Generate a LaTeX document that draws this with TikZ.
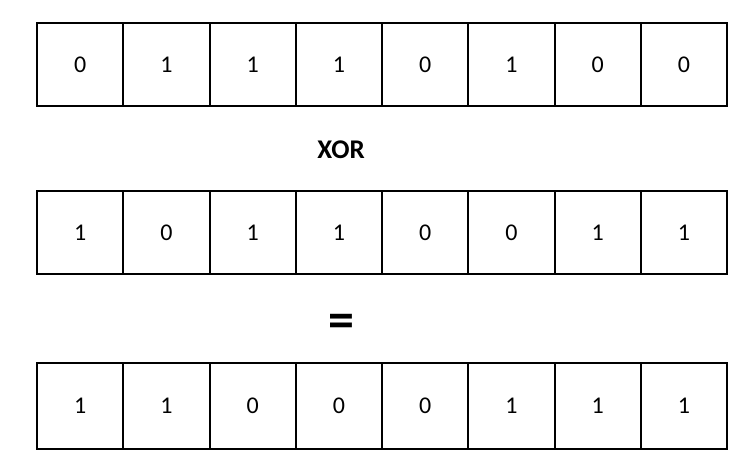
\documentclass[tikz,border=0pt]{standalone}
\usepackage{fontspec}
\setmainfont{Carlito}
\begin{document}
\begin{tikzpicture}[x=1bp,y=-1bp,
  cell/.style={draw=black,line width=2bp,minimum width=86.25bp,inner sep=0pt,outer sep=0pt,font=\fontsize{24bp}{28bp}\selectfont},
  op/.style={inner sep=0pt,font=\bfseries\fontsize{27bp}{31bp}\selectfont}]
\useasboundingbox (0,0) rectangle (754,456);
\def\rowA{0,1,1,1,0,1,0,0}
\def\rowB{1,0,1,1,0,0,1,1}
\def\rowC{1,1,0,0,0,1,1,1}
\foreach \v [count=\i] in \rowA {
  \node[cell,minimum height=83bp] (a\i) at ({37+86.25*(\i-0.5)},65) {\v};
}
\foreach \v [count=\i] in \rowB {
  \node[cell,minimum height=83.5bp] (b\i) at ({37+86.25*(\i-0.5)},232.75) {\v};
}
\foreach \v [count=\i] in \rowC {
  \node[cell,minimum height=85bp] (c\i) at ({37+86.25*(\i-0.5)},406) {\v};
}
\node[op] (xor) at (341,149.5) {XOR};
\node[op,font=\bfseries\fontsize{52bp}{56bp}\selectfont] (eq) at (341,326) {=};
\end{tikzpicture}
\end{document}
